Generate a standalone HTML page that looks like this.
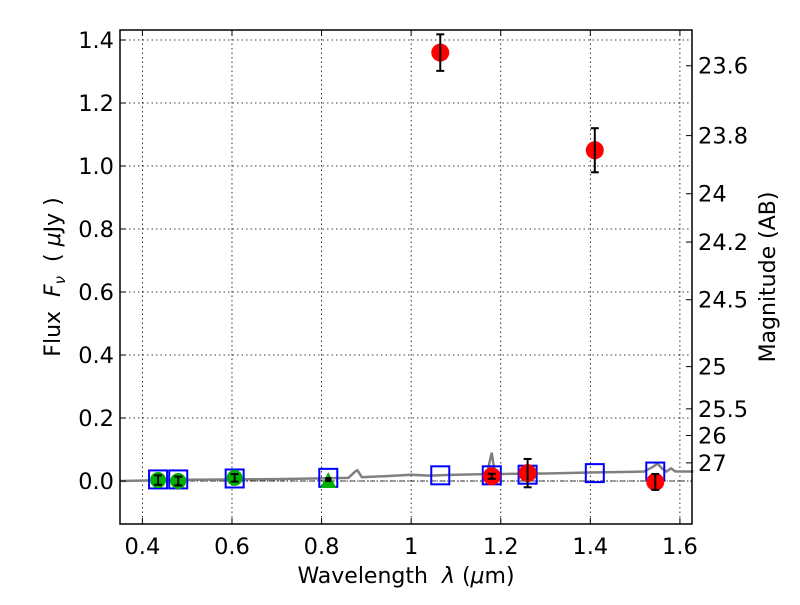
<!DOCTYPE html>
<html><head><meta charset="utf-8"><style>
body{margin:0;background:#fff;}
svg text{font-family:"DejaVu Sans","Liberation Sans",sans-serif;fill:#000;white-space:pre;}
</style></head><body>
<svg id="chart" width="800" height="600" xmlns="http://www.w3.org/2000/svg">
<rect width="800" height="600" fill="#fff"/>
<g id="grid"></g>
<g id="marks"></g>
<rect x="120" y="30" width="572" height="494" fill="none" stroke="#000" stroke-width="1.5"/>
<g id="axes"></g>
<text x="406" y="583" font-size="22" text-anchor="middle">Wavelength&#160;&#160;<tspan font-style="italic">λ</tspan> (<tspan font-style="italic">μ</tspan>m)</text>
<text transform="translate(60,277) rotate(-90)" font-size="22" text-anchor="middle">Flux&#160;&#160;<tspan font-style="italic">F</tspan><tspan font-style="italic" font-size="15" dy="5">ν</tspan><tspan dy="-5">&#160;&#160;(&#160;</tspan><tspan font-style="italic">μ</tspan>Jy )</text>
<text transform="translate(775,277) rotate(-90)" font-size="22" text-anchor="middle">Magnitude (AB)</text>
</svg>
<script>
const xTicks=[0.4,0.6,0.8,1.0,1.2,1.4,1.6];
const xTickLabels=["0.4","0.6","0.8","1","1.2","1.4","1.6"];
const yTicks=[0.0,0.2,0.4,0.6,0.8,1.0,1.2,1.4];
const yTickLabels=["0.0","0.2","0.4","0.6","0.8","1.0","1.2","1.4"];
const magTicks=[23.6,23.8,24,24.2,24.5,25,25.5,26,27];
const magTickLabels=["23.6","23.8","24","24.2","24.5","25","25.5","26","27"];
const redX=[1.065,1.41,1.18,1.26,1.545];
const redY=[1.36,1.05,0.015,0.025,-0.003];
const redErr=[0.058,0.07,0.008,0.045,0.025];
const greenX=[0.435,0.48,0.606];
const greenY=[0.003,0.0,0.01];
const greenErr=[0.015,0.014,0.012];
const triX=[0.815];
const triY=[0.0];
const sqX=[0.435,0.48,0.606,0.815,1.065,1.18,1.26,1.41,1.545];
const sqY=[0.005,0.005,0.008,0.01,0.018,0.018,0.02,0.025,0.03];
const modelX=[0.35,0.5,0.7,0.86,0.875,0.88,0.89,0.95,1.0,1.04,1.1,1.17,1.175,1.18,1.185,1.19,1.3,1.4,1.52,1.54,1.55,1.56,1.57,1.58,1.59,1.63];
const modelY=[0.0,0.004,0.006,0.01,0.03,0.034,0.012,0.016,0.02,0.017,0.02,0.022,0.06,0.09,0.04,0.022,0.024,0.027,0.03,0.045,0.055,0.04,0.03,0.04,0.03,0.03];

const X0=0.35,X1=1.627,PL=120,PR=692,PT=30,PB=524;
const xs=v=>PL+(v-X0)/(X1-X0)*(PR-PL);
const ys=v=>481-v*315;
const magToY=m=>ys(Math.pow(10,(23.9-m)/2.5));
const NS="http://www.w3.org/2000/svg";
function mk(t,a,p){const e=document.createElementNS(NS,t);for(const k in a)e.setAttribute(k,a[k]);p.appendChild(e);return e;}
const grid=document.getElementById('grid'),marks=document.getElementById('marks'),axes=document.getElementById('axes');
xTicks.forEach((v,i)=>{
 const l=mk('line',{x1:xs(v),x2:xs(v),y1:PT,y2:PB,stroke:'#000','stroke-width':0.8,'stroke-dasharray':'1.5,3'},grid);
 
 
 mk('line',{x1:xs(v),x2:xs(v),y1:PB,y2:PB-6,stroke:'#000'},axes);
 mk('line',{x1:xs(v),x2:xs(v),y1:PT,y2:PT+6,stroke:'#000'},axes);
 const t=mk('text',{x:xs(v),y:PB+30,'font-size':22.5,'text-anchor':'middle'},axes);t.textContent=xTickLabels[i];
 
 
});
yTicks.forEach((v,i)=>{
 const l=mk('line',{x1:PL,x2:PR,y1:ys(v),y2:ys(v),stroke:'#000','stroke-width':0.8,'stroke-dasharray':'1.5,3'},grid);
 
 
 mk('line',{x1:PL,x2:PL+6,y1:ys(v),y2:ys(v),stroke:'#000'},axes);
 const t=mk('text',{x:PL-6,y:ys(v)+8,'font-size':22.5,'text-anchor':'end'},axes);t.textContent=yTickLabels[i];
 
 
});
magTicks.forEach((m,i)=>{
 const y=magToY(m);
 mk('line',{x1:PR-6,x2:PR,y1:y,y2:y,stroke:'#000'},axes);
 const t=mk('text',{x:PR+6,y:y+8,'font-size':22.5},axes);t.textContent=magTickLabels[i];
 
 
});
const z=mk('line',{x1:PL,x2:PR,y1:ys(0),y2:ys(0),stroke:'#000','stroke-width':0.8,'stroke-dasharray':'5,2,1,2'},marks);


const mp=mk('polyline',{points:modelX.map((x,i)=>xs(x)+','+ys(modelY[i])).join(' '),fill:'none',stroke:'#808080','stroke-width':2.5},marks);


sqX.forEach((x,i)=>{
 const r=mk('rect',{x:xs(x)-9,y:ys(sqY[i])-9,width:18,height:18,fill:'none',stroke:'#0000ff','stroke-width':2},marks);
 
 
});
function err(x,y,e){
 const g=mk('g',{stroke:'#000','stroke-width':2},marks);
 mk('line',{x1:xs(x),x2:xs(x),y1:ys(y+e),y2:ys(y-e)},g);
 mk('line',{x1:xs(x)-4,x2:xs(x)+4,y1:ys(y+e),y2:ys(y+e)},g);
 mk('line',{x1:xs(x)-4,x2:xs(x)+4,y1:ys(y-e),y2:ys(y-e)},g);
 
 
}
greenX.forEach((x,i)=>{
 const c=mk('circle',{cx:xs(x),cy:ys(greenY[i]),r:8,fill:'#00b000'},marks);
 
 
 err(x,greenY[i],greenErr[i]);
});
triX.forEach((x,i)=>{
 const cx=xs(x),cy=ys(triY[i]);
 const p=mk('polygon',{points:`${cx},${cy-9} ${cx-8},${cy+7} ${cx+8},${cy+7}`,fill:'#00b000'},marks);
 
 
 mk('rect',{x:cx-3,y:cy-4,width:6,height:5,fill:'#000'},marks);
});
redX.forEach((x,i)=>{
 const c=mk('circle',{cx:xs(x),cy:ys(redY[i]),r:9,fill:'#ff0000'},marks);
 
 
 err(x,redY[i],redErr[i]);
});
</script>
</body></html>
